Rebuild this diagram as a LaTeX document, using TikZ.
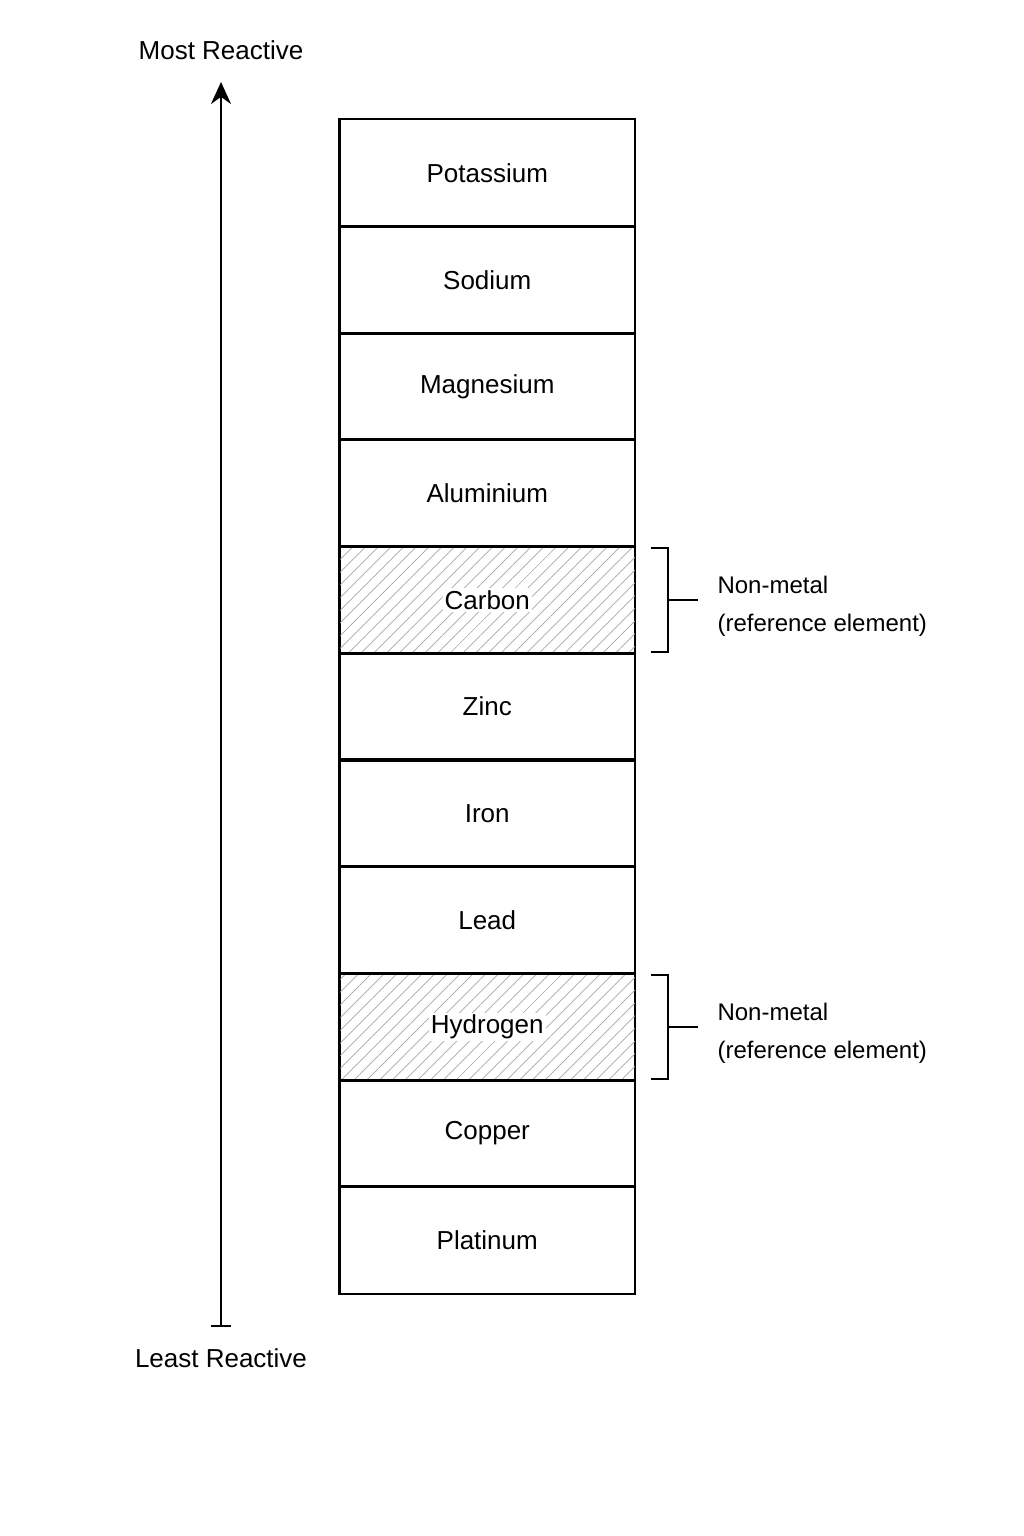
\documentclass[tikz,border=0pt]{standalone}
\usepackage{fontspec}
\setmainfont{Liberation Sans}
\usetikzlibrary{patterns.meta,arrows.meta}
\begin{document}
\begin{tikzpicture}[x=1pt,y=-1pt,
 cell/.style={draw,line width=1.5pt,minimum width=295pt,minimum height=106.8pt,inner sep=0pt,anchor=north west},
 hatch/.style={pattern={Lines[distance=9pt,angle=45,line width=0.7pt]},pattern color=gray!70},
 lab/.style={font=\fontsize{26}{30}\selectfont},
 side/.style={font=\fontsize{24}{38}\selectfont,align=left,anchor=west},
 hl/.style={fill=white,inner sep=2pt,font=\fontsize{26}{30}\selectfont}]
\useasboundingbox (0,0) rectangle (1024,1536);
\foreach \n/\t [count=\i from 0] in {k/Potassium,na/Sodium,mg/Magnesium,al/Aluminium,c/Carbon,zn/Zinc,fe/Iron,pb/Lead,h/Hydrogen,cu/Copper,pt/Platinum}{
  \node[cell] (\n) at (339,{119+\i*106.7}) {};
}
\fill[hatch] (c.north west) rectangle (c.south east);
\fill[hatch] (h.north west) rectangle (h.south east);
\foreach \n/\t in {k/Potassium,na/Sodium,mg/Magnesium,al/Aluminium,zn/Zinc,fe/Iron,pb/Lead,cu/Copper,pt/Platinum}{
  \node[lab] (t\n) at (\n) {\t};
}
\node[hl] (tc) at (c) {Carbon};
\node[hl] (th) at (h) {Hydrogen};
\foreach \n in {k,na,mg,al,c,zn,fe,pb,h,cu,pt}{\draw[line width=1.5pt] (\n.north west) rectangle (\n.south east);}
% arrow
\coordinate (bot) at (221,1326);
\coordinate (top) at (221,82);
\draw[line width=2pt,-{Stealth[length=22pt,width=20pt]}] (bot) -- (top);
\draw[line width=2pt] (211,1326) -- (231,1326);
\node[lab] (most) at (221,50) {Most Reactive};
\node[lab] (least) at (221,1358) {Least Reactive};
% braces
\foreach \n/\y in {c/600,h/1027}{
  \draw[line width=1.3pt] (651,\y-52) -- (668,\y-52) -- (668,\y+52) -- (651,\y+52);
  \draw[line width=1.3pt] (668,\y) -- (698,\y);
  \node[side] (s\n) at (714,\y+6) {Non-metal\\(reference element)};
}
\end{tikzpicture}
\end{document}
